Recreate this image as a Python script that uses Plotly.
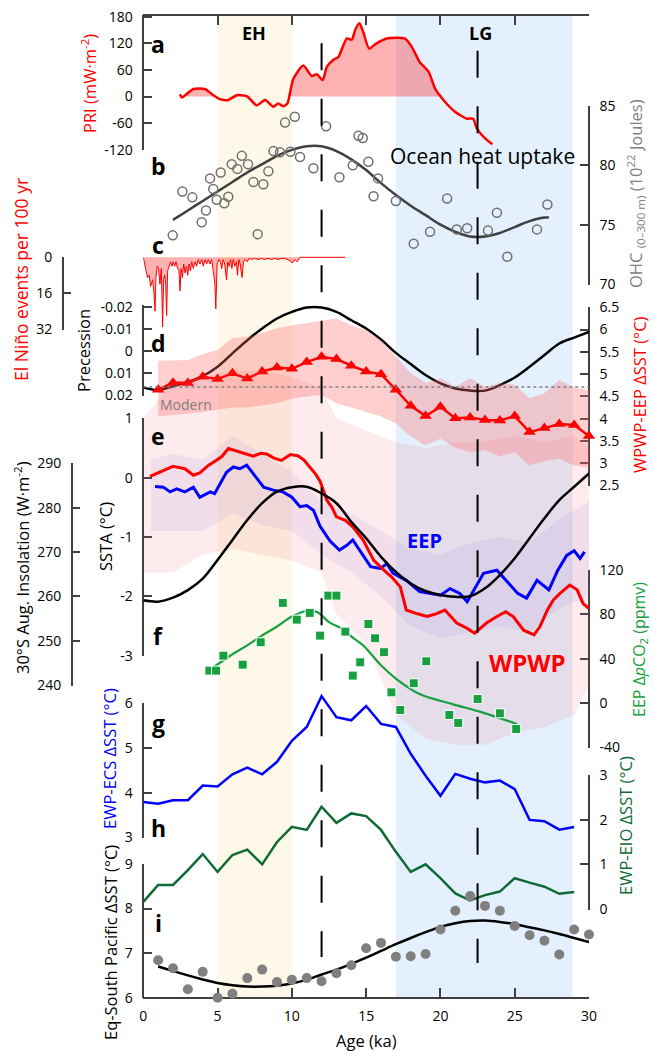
import plotly.graph_objects as go

W, H = 653, 1051

# ======================= DATA =======================
age_ticks = [0, 5, 10, 15, 20, 25, 30]

# (a) PRI (mW m-2)
pri_age = [2.47, 2.6, 3.37, 4.15, 4.71, 5.16, 5.72, 6.29, 6.96, 7.64, 8.2, 8.75, 9.09, 9.43, 9.7,
           10.1, 10.77, 11.34, 11.68, 12.08, 12.35, 12.8, 13.13, 13.7, 14.03, 14.26, 14.55, 14.8,
           15.2, 15.7, 16.4, 17.6, 18.07, 18.6, 19.2, 19.64, 20.2, 21.0, 21.78, 22.2, 22.45, 22.9, 23.5]
pri_val = [5, -2, 17, 17, 3, -6, -8, 3, 1, -20, -8, -23, -16, -22, -16,
           40, 70, 46, 50, 37, 67, 83, 89, 131, 128, 150, 165, 146,
           108, 120, 131, 131, 112, 78, 56, 18, -8, -35, -50, -50, -72, -91, -108]

# (b) Ocean heat content (10^22 J)
ohc_age = [1.98, 2.63, 3.3, 3.93, 4.22, 4.49, 4.71, 4.94, 5.21, 5.45, 5.72, 5.95, 6.33, 6.63, 7.05,
           7.41, 7.7, 8.08, 8.42, 8.76, 9.2, 9.54, 9.9, 10.2, 10.55, 11.45, 12.3, 13.2, 14.1, 14.48,
           14.77, 15.15, 15.5, 15.8, 17.0, 18.2, 19.3, 20.45, 21.1, 21.8, 23.2, 23.8, 24.5, 26.5, 27.2]
ohc_val = [74.1, 77.8, 77.3, 75.2, 76.2, 78.9, 78.0, 77.1, 79.4, 76.8, 77.35, 80.1, 79.7, 80.8, 80.1,
           78.6, 74.2, 78.4, 79.5, 81.2, 81.1, 83.6, 81.15, 84.1, 80.7, 79.75, 83.3, 79.0, 80.0, 82.5,
           82.3, 80.3, 77.4, 78.9, 77.0, 73.4, 74.4, 77.2, 74.6, 74.7, 74.5, 76.0, 72.3, 74.6, 76.7]
ohc_fit_age = [2, 3, 4, 5, 6, 7, 8, 9, 10, 11, 12, 13, 14, 15, 16, 17, 18, 19, 20, 21, 22, 23, 24,
               25, 26, 27, 27.3]
ohc_fit_val = [75.4, 76.2, 77.0, 77.8, 78.6, 79.4, 80.1, 80.8, 81.3, 81.6, 81.6, 81.2, 80.5, 79.6,
               78.5, 77.5, 76.6, 75.8, 75.0, 74.4, 74.0, 74.0, 74.3, 74.8, 75.3, 75.6, 75.6]

# (c) El Nino events per 100 yr
elnino_age = [0.0, 0.07, 0.18, 0.29, 0.40, 0.49, 0.63, 0.72, 0.79, 0.85, 0.94, 1.03, 1.12, 1.21,
              1.30, 1.37, 1.44, 1.51, 1.57, 1.64, 1.75, 1.84, 1.93, 2.02, 2.11, 2.20, 2.31, 2.40,
              2.47, 2.54, 2.63, 2.72, 2.81, 2.90, 2.99, 3.08, 3.17, 3.26, 3.37, 3.48, 3.59, 3.70,
              3.81, 3.93, 4.04, 4.15, 4.26, 4.37, 4.49, 4.60, 4.71, 4.82, 4.88, 4.97, 5.08, 5.19,
              5.28, 5.37, 5.48, 5.60, 5.69, 5.78, 5.87, 5.96, 6.05, 6.16, 6.27, 6.34, 6.43, 6.52,
              6.65, 6.74, 6.86, 6.99, 7.12, 7.28, 7.50, 7.72, 7.95, 8.17, 8.40, 8.62, 8.85, 9.07,
              9.30, 9.52, 9.86, 10.04, 10.20, 10.36, 10.54, 13.6]
elnino_val = [0, 3, 6, 9, 8, 13, 10, 16, 24, 9, 4, 5, 12, 5,
              31, 10, 8, 12, 26, 6, 4, 2, 4, 2, 4, 2, 5, 6,
              15, 5, 9, 3, 7, 4, 8, 3, 6, 2, 5, 2, 4, 1,
              3, 1, 4, 1, 3, 1, 3, 1, 6, 12, 23, 3, 1, 2,
              5, 1, 3, 10, 2, 4, 1, 5, 1, 4, 2, 8, 1, 3,
              9, 2, 1, 2, 0.5, 1, 0.5, 1, 0.5, 1, 0.5, 1, 0.5, 1,
              0.5, 0.5, 1.5, 2.5, 1, 2, 0, 0]

# (d) Precession and WPWP-EEP dSST
prec_age = [0, 1, 2, 3, 4, 5, 6, 7, 8, 9, 10, 11, 12, 13, 14, 15, 16, 17, 18, 19, 20, 21, 22, 23,
            24, 25, 26, 27, 28, 29, 30]
prec_val = [0.0165, 0.0177, 0.016, 0.014, 0.0114, 0.0071, 0.001, -0.005, -0.0103, -0.0149, -0.0179,
            -0.0199, -0.0199, -0.0179, -0.0141, -0.0103, -0.0053, 0.0008, 0.0059, 0.0109, 0.0147,
            0.017, 0.018, 0.018, 0.0155, 0.012, 0.0071, 0.0018, -0.0035, -0.0062, -0.0088]
modern_precession = 0.0164
dsst_age = [1, 2, 3, 4, 5, 6, 7, 8, 9, 10, 11, 12, 13, 14, 15, 16, 17, 18, 19, 20, 21, 22, 23, 24,
            25, 26, 27, 28, 29, 30]
dsst_val = [4.65, 4.81, 4.80, 4.94, 4.89, 5.02, 4.90, 5.06, 5.15, 5.12, 5.27, 5.39, 5.34, 5.19, 5.06,
            5.00, 4.65, 4.29, 4.06, 4.27, 4.01, 4.03, 3.97, 3.96, 4.06, 3.70, 3.79, 3.88, 3.86, 3.61]
dsst_hi = [5.30, 5.31, 5.32, 5.45, 5.54, 5.81, 5.84, 5.92, 6.03, 6.10, 6.15, 6.20, 6.25, 6.10, 5.99,
           5.77, 5.39, 5.02, 4.80, 4.91, 4.72, 4.91, 4.72, 4.80, 4.76, 4.46, 4.57, 4.87, 4.70, 4.65]
dsst_lo = [4.05, 4.08, 4.12, 4.15, 4.20, 4.25, 4.25, 4.30, 4.35, 4.45, 4.50, 4.53, 4.35, 4.25, 4.15,
           4.05, 3.90, 3.60, 3.40, 3.55, 3.35, 3.25, 3.30, 3.15, 3.25, 2.95, 3.05, 3.10, 2.95, 2.90]

# (e) SSTA and 30S August insolation
insol_age = prec_age
insol_val = [259.1, 258.8, 259.7, 261.4, 264.0, 268.2, 272.7, 277.2, 281.0, 283.6, 284.6, 284.7,
             283.2, 281.0, 276.8, 273.1, 268.9, 265.5, 262.9, 261.2, 260.3, 259.9, 260.0, 261.8,
             264.8, 268.6, 273.1, 277.6, 281.7, 284.7, 287.7]
wpwp_age = [0.45, 1.35, 2.0, 2.8, 3.37, 3.8, 4.4, 4.9, 5.3, 5.73, 6.1, 6.5, 7.0, 7.4, 7.9, 8.3, 8.8,
            9.3, 9.9, 10.4, 10.8, 11.2, 11.6, 11.9, 12.35, 12.7, 13.0, 13.6, 14.1, 14.8, 15.5, 16.2,
            16.7, 17.3, 17.7, 18.4, 19.1, 19.75, 20.3, 21.1, 21.8, 22.3, 23.1, 23.8, 24.4, 24.9,
            25.6, 26.3, 26.7, 27.2, 27.6, 28.05, 28.7, 29.2, 29.6, 30.2]
wpwp_val = [0.02, 0.12, 0.19, 0.15, 0.04, 0.08, 0.21, 0.29, 0.36, 0.49, 0.46, 0.43, 0.38, 0.36, 0.41,
            0.40, 0.33, 0.29, 0.39, 0.37, 0.30, 0.18, 0.06, -0.06, -0.38, -0.50, -0.66, -0.72, -0.83,
            -1.05, -1.39, -1.56, -1.67, -1.84, -2.23, -2.29, -2.34, -2.29, -2.23, -2.45, -2.54, -2.62,
            -2.45, -2.34, -2.26, -2.34, -2.57, -2.65, -2.51, -2.23, -2.06, -1.95, -1.81, -1.89, -2.12,
            -2.25]
eep_age = [0.79, 1.35, 1.8, 2.25, 2.8, 3.37, 3.8, 4.5, 4.8, 5.28, 5.6, 6.06, 6.5, 6.96, 7.4, 8.1,
           8.75, 9.4, 10.0, 10.55, 11.0, 11.45, 11.9, 12.57, 13.2, 13.7, 14.1, 14.7, 15.3, 15.95,
           16.4, 16.8, 17.7, 18.6, 19.3, 20.0, 20.65, 21.3, 21.8, 22.2, 22.9, 23.8, 24.5, 25.2, 25.8,
           26.5, 27.3, 27.9, 28.5, 29.0, 29.4, 29.7]
eep_val = [-0.15, -0.16, -0.24, -0.19, -0.24, -0.16, -0.33, -0.24, -0.27, -0.05, 0.09, 0.18, 0.15,
           0.21, 0.07, -0.16, -0.21, -0.24, -0.33, -0.49, -0.47, -0.55, -0.82, -1.07, -1.22, -1.14,
           -1.05, -1.28, -1.50, -1.53, -1.45, -1.61, -1.73, -1.92, -1.95, -1.98, -1.87, -1.95, -2.09,
           -1.92, -1.61, -1.56, -1.75, -1.95, -2.03, -1.73, -1.89, -1.56, -1.31, -1.23, -1.36, -1.25]
# envelopes of the raw (unsmoothed) SSTA records
raw_wpwp_age = [0, 2, 4, 6, 8, 10, 12, 13, 15, 17, 19, 21, 23, 25, 27, 29, 30]
raw_wpwp_hi = [1.0, 1.6, 1.7, 1.8, 1.8, 1.7, 1.5, 1.0, 0.8, 0.6, 0.5, 0.6, 0.6, 0.7, 0.6, 0.7, 0.5]
raw_wpwp_lo = [-1.6, -1.6, -1.3, -1.2, -1.3, -1.4, -1.6, -2.3, -2.8, -4.0, -4.4, -4.5, -4.5, -4.3,
               -4.2, -4.0, -3.5]
raw_eep_age = [0.5, 2, 4, 6, 8, 10, 12, 14, 16, 18, 20, 22, 24, 26, 28, 30]
raw_eep_hi = [0.3, 0.4, 0.3, 0.7, 0.4, 0.1, -0.4, -0.6, -0.9, -1.2, -1.3, -1.1, -1.0, -1.1, -0.7, -0.4]
raw_eep_lo = [-0.9, -0.9, -0.9, -0.6, -0.8, -0.9, -1.3, -1.6, -2.0, -2.5, -2.7, -2.6, -2.5, -2.6,
              -2.2, -2.0]

# (f) EEP delta pCO2 (ppmv)
pco2_age = [4.45, 4.9, 5.39, 6.69, 7.9, 9.39, 10.33, 11.2, 11.9, 12.46, 13.0, 13.6, 14.1, 14.6,
            15.15, 15.6, 16.2, 16.7, 17.3, 18.2, 19.05, 20.6, 21.2, 22.5, 24.0, 25.1]
pco2_val = [29.2, 29.2, 42.7, 34.6, 54.8, 90.3, 75.2, 81.3, 60.8, 96.9, 96.9, 64.4, 24.7, 36.7,
            71.3, 58.4, 45.8, 9.6, -6.3, 17.8, 37.6, -10.8, -18.0, 3.6, -9.3, -23.5]
pco2_fit_age = [4.7, 6, 7, 8, 9, 10, 11, 11.7, 12.5, 13.5, 14.1, 14.8, 16, 17, 18.6, 20.8, 22.7, 25.15]
pco2_fit_val = [32, 44, 52, 61, 69, 78, 83, 82, 73, 66, 59, 52, 34, 22, 8, -1, -8, -19]

# (g) EWP-ECS dSST, (h) EWP-EIO dSST
ecs_age = list(range(0, 30))
ecs_val = [3.79, 3.75, 3.83, 3.83, 4.16, 4.14, 4.41, 4.56, 4.41, 4.69, 5.16, 5.47, 6.16, 5.69, 5.62,
           5.94, 5.54, 5.47, 4.87, 4.38, 3.93, 4.42, 4.31, 4.23, 4.27, 4.08, 3.39, 3.36, 3.17, 3.23]
eio_age = list(range(0, 30))
eio_val = [0.16, 0.54, 0.54, 0.87, 1.23, 0.83, 1.21, 1.33, 1.0, 1.50, 1.84, 1.77, 2.29, 1.93, 2.14,
           2.08, 1.77, 1.28, 0.83, 1.0, 0.69, 0.35, 0.19, 0.31, 0.39, 0.69, 0.59, 0.50, 0.34, 0.38]

# (i) Eq-South Pacific dSST
eqsp_age = list(range(1, 31))
eqsp_val = [6.84, 6.66, 6.19, 6.58, 6.0, 6.09, 6.44, 6.63, 6.35, 6.40, 6.44, 6.37, 6.55, 6.73, 7.11,
            7.23, 6.92, 6.93, 6.98, 7.53, 7.95, 8.28, 8.06, 7.95, 7.61, 7.40, 7.28, 6.97, 7.53, 7.42]
eqsp_fit_age = list(range(1, 31))
eqsp_fit_val = [6.70, 6.60, 6.50, 6.41, 6.33, 6.28, 6.25, 6.25, 6.27, 6.32, 6.40, 6.52, 6.63, 6.76,
                6.90, 7.05, 7.20, 7.34, 7.47, 7.59, 7.67, 7.72, 7.73, 7.70, 7.65, 7.58, 7.51, 7.43,
                7.34, 7.25]

# intervals and event lines
eh_interval = [5.0, 10.0]
lg_interval = [17.0, 28.9]
event_ages = [12.0, 22.5]

# tick labels
pri_ticks = [-120, -60, 0, 60, 120, 180]
ohc_ticks = [70, 75, 80, 85]
elnino_ticks = [0, 16, 32]
prec_ticks = [-0.02, -0.01, 0, 0.01, 0.02]
prec_ticktext = ['-0.02', '-0.01', '0', '0.01', '0.02']
dsst_ticks = [2.5, 3, 3.5, 4, 4.5, 5, 5.5, 6, 6.5]
ssta_ticks = [-3, -2, -1, 0, 1]
insol_ticks = [240, 250, 260, 270, 280, 290]
pco2_ticks = [-40, 0, 40, 80, 120]
ecs_ticks = [3, 4, 5, 6]
eio_ticks = [0, 1, 2, 3]
eqsp_ticks = [6, 7, 8, 9]

# ======================= LAYOUT HELPERS =======================
FONT = 'Open Sans'
AX = '#404040'
RED = '#FF0000'
BLUE = '#0000FF'
GREEN = '#17A040'
DGREEN = '#0F6B35'
XL, XR = 143.3, 589.0     # pixel positions of age 0 and 30
TSZ = 16.5                # axis-title font size


def fx(px):
    return px / W


def fy(py):
    return 1 - py / H


def lin(pa, va, pb, vb):
    s = (vb - va) / (pb - pa)
    return lambda p: va + (p - pa) * s


# key: calibration (px, val, px, val), axis span (top, bottom), x position, side, ticks
specs = [
    ('pri', (16.7, 180, 149.7, -120), (15.3, 150.2), XL, 'left', pri_ticks, None),
    ('ohc', (106.0, 85, 284.0, 70), (105.5, 284.5), XR, 'right', ohc_ticks, None),
    ('eln', (257.3, 0, 329.0, 32), (256.8, 329.5), 62.7, 'left', elnino_ticks, None),
    ('prec', (307.3, -0.02, 395.0, 0.02), (305.0, 395.5), XL, 'left', prec_ticks, prec_ticktext),
    ('dsst', (307.3, 6.5, 463.3, 3.0), (306.8, 486.2), XR, 'right', dsst_ticks, None),
    ('ssta', (418.3, 1, 655.7, -3), (417.8, 656.2), XL, 'left', ssta_ticks, None),
    ('insol', (463.3, 290, 685.0, 240), (462.8, 685.5), 71.7, 'left', insol_ticks, None),
    ('pco2', (570.0, 120, 747.3, -40), (569.5, 747.8), XR, 'right', pco2_ticks, None),
    ('ecs', (703.3, 6, 837.3, 3), (702.8, 837.8), XL, 'left', ecs_ticks, None),
    ('eio', (775.0, 3, 909.0, 0), (774.5, 909.5), XR, 'right', eio_ticks, None),
    ('eqsp', (864.0, 9, 997.7, 6), (863.5, 998.0), XL, 'left', eqsp_ticks, None),
]
n = len(specs)
DISP, DATA = {}, {}
layout_axes = {}
for i, (key, cal, span, xpos, side, tv, tt) in enumerate(specs):
    f = lin(*cal)
    dn = i + 1
    dd = n + i + 1
    DISP[key] = 'y' if dn == 1 else f'y{dn}'
    DATA[key] = f'y{dd}'
    top, bot = span
    layout_axes['yaxis' if dn == 1 else f'yaxis{dn}'] = dict(
        domain=[fy(bot), fy(top)], range=[f(bot), f(top)], autorange=False,
        anchor='free', position=fx(xpos), side=side, automargin=False,
        showline=True, linecolor=AX, linewidth=1.5, mirror=False,
        ticks='inside', ticklen=8, tickwidth=1.5, tickcolor=AX,
        showgrid=False, zeroline=False, tickmode='array', tickvals=tv,
        ticktext=tt if tt is not None else [str(v) for v in tv],
        tickfont=dict(family=FONT, size=14, color='black'), ticklabelstandoff=7,
        fixedrange=True)
    layout_axes[f'yaxis{dd}'] = dict(
        domain=[0, 1], range=[f(H), f(0)], autorange=False, anchor='free', position=0,
        visible=False, showgrid=False, zeroline=False, fixedrange=True, automargin=False)

fig = go.Figure()

for key in DISP:
    fig.add_trace(go.Scatter(x=[None], y=[None], xaxis='x', yaxis=DISP[key], showlegend=False,
                             hoverinfo='skip'))
fig.add_trace(go.Scatter(x=[None], y=[None], xaxis='x2', yaxis='y', showlegend=False,
                         hoverinfo='skip'))


def tr(key, **kw):
    kw.setdefault('showlegend', False)
    kw.setdefault('hoverinfo', 'skip')
    fig.add_trace(go.Scatter(xaxis='x', yaxis=DATA[key], **kw))


# ---- raw SSTA envelopes (e)
tr('ssta', x=raw_wpwp_age, y=raw_wpwp_hi, mode='lines', line=dict(width=0))
tr('ssta', x=raw_wpwp_age, y=raw_wpwp_lo, mode='lines', line=dict(width=0), fill='tonexty',
   fillcolor='rgba(245,90,110,0.12)')
tr('ssta', x=raw_eep_age, y=raw_eep_hi, mode='lines', line=dict(width=0))
tr('ssta', x=raw_eep_age, y=raw_eep_lo, mode='lines', line=dict(width=0), fill='tonexty',
   fillcolor='rgba(130,110,220,0.10)')

# ---- (d) band
tr('dsst', x=dsst_age, y=dsst_hi, mode='lines', line=dict(width=0))
tr('dsst', x=dsst_age, y=dsst_lo, mode='lines', line=dict(width=0), fill='tonexty',
   fillcolor='rgba(255,110,110,0.33)')

# ---- (a) PRI
tr('pri', x=pri_age, y=[max(v, 0) for v in pri_val], mode='lines', line=dict(width=0),
   fill='tozeroy', fillcolor='rgba(255,0,0,0.3)')
tr('pri', x=pri_age, y=pri_val, mode='lines', line=dict(color=RED, width=2.5, shape='spline',
                                                           smoothing=0.6))

# ---- (b) OHC
tr('ohc', x=ohc_fit_age, y=ohc_fit_val, mode='lines',
   line=dict(color='#404040', width=2.5, shape='spline'))
tr('ohc', x=ohc_age, y=ohc_val, mode='markers', cliponaxis=False,
   marker=dict(symbol='circle-open', size=9, color='#707070', line=dict(width=1.5, color='#707070')))

# ---- (c) El Nino
tr('eln', x=elnino_age, y=elnino_val, mode='lines', line=dict(color=RED, width=1),
   fill='tozeroy', fillcolor='rgba(255,0,0,0.3)')

# ---- (d) precession & dSST
tr('prec', x=prec_age, y=prec_val, mode='lines', line=dict(color='black', width=2.5, shape='spline'))
tr('dsst', x=dsst_age, y=dsst_val, mode='lines+markers', cliponaxis=False,
   line=dict(color=RED, width=2.5), marker=dict(symbol='triangle-up', size=11, color=RED))

# ---- (e) insolation, SSTA
tr('insol', x=insol_age, y=insol_val, mode='lines', line=dict(color='black', width=2.5, shape='spline'))
tr('ssta', x=eep_age, y=eep_val, mode='lines', line=dict(color=BLUE, width=3))
tr('ssta', x=wpwp_age, y=wpwp_val, mode='lines', line=dict(color=RED, width=3))

# ---- (f) pCO2
tr('pco2', x=pco2_fit_age, y=pco2_fit_val, mode='lines', line=dict(color=GREEN, width=2.2, shape='spline'))
tr('pco2', x=pco2_age, y=pco2_val, mode='markers', cliponaxis=False,
   marker=dict(symbol='square', size=9, color=GREEN, line=dict(width=1, color='white')))

# ---- (g), (h)
tr('ecs', x=ecs_age, y=ecs_val, mode='lines', line=dict(color=BLUE, width=2.5))
tr('eio', x=eio_age, y=eio_val, mode='lines', line=dict(color=DGREEN, width=2.5))

# ---- (i)
tr('eqsp', x=eqsp_fit_age, y=eqsp_fit_val, mode='lines', line=dict(color='black', width=2.5, shape='spline'))
tr('eqsp', x=eqsp_age, y=eqsp_val, mode='markers', cliponaxis=False,
   marker=dict(size=10, color='#808080'))

# ======================= SHAPES =======================
shapes = [
    dict(type='rect', xref='x', yref='paper', x0=eh_interval[0], x1=eh_interval[1],
         y0=fy(997.7), y1=fy(15.3), fillcolor='#FDF8E7', line=dict(width=0), layer='below'),
    dict(type='rect', xref='x', yref='paper', x0=lg_interval[0], x1=lg_interval[1],
         y0=fy(997.7), y1=fy(15.3), fillcolor='#E4F0FD', line=dict(width=0), layer='below'),
    dict(type='line', xref='x', yref=DATA['prec'], x0=0, x1=30, y0=modern_precession,
         y1=modern_precession, line=dict(color='#808080', width=1.5, dash='dot'), layer='above'),
]
for a, ytop, ybot in zip(event_ages, [43.3, 50.7], [957, 963]):
    shapes.append(dict(type='line', xref='x', yref='paper', x0=a, x1=a, y0=fy(ytop), y1=fy(ybot),
                       line=dict(color='black', width=2, dash='27px,28.5px'), layer='above'))

# ======================= ANNOTATIONS =======================
ann = []


def txt(s, px, py, size=14, color='black', bold=False, angle=0):
    ann.append(dict(text=f'<b>{s}</b>' if bold else s, x=fx(px), y=fy(py), xref='paper',
                    yref='paper', showarrow=False, textangle=angle, xanchor='center',
                    yanchor='middle', font=dict(family=FONT, size=size, color=color)))


for lab, px, py in [('a', 158, 44), ('b', 158, 166), ('c', 158, 245), ('d', 158, 343),
                    ('e', 158, 436), ('f', 158, 636), ('g', 158, 723), ('h', 158, 828),
                    ('i', 158, 923)]:
    txt(lab, px, py, size=23, bold=True)
txt('EH', 254, 33, size=18, bold=True)
txt('LG', 480.7, 33, size=18, bold=True)
txt('Ocean heat uptake', 482.5, 156, size=21)
txt('EEP', 424.3, 540, size=20, color=BLUE, bold=True)
txt('WPWP', 527.3, 662, size=24, color=RED, bold=True)
txt('Modern', 186, 404, size=14, color='#808080')

txt('PRI (mW·m<sup>-2</sup>)', 89, 83, size=TSZ, color=RED, angle=-90)
txt('El Niño events per 100 yr', 21, 280, size=17.5, color=RED, angle=-90)
txt('Precession', 83, 351, size=TSZ, angle=-90)
txt('SSTA (°C)', 105, 537, size=TSZ, angle=-90)
txt('30°S Aug. Insolation (W·m<sup>-2</sup>)', 22, 568, size=TSZ, angle=-90)
txt('EWP-ECS ΔSST (°C)', 109, 759, size=TSZ, color=BLUE, angle=-90)
txt('Eq-South Pacific ΔSST (°C)', 110, 943, size=TSZ, angle=-90)
txt('OHC <sub>(0–300 m)</sub> (10<sup>22</sup> Joules)', 635, 194, size=TSZ, color='#808080', angle=-90)
txt('WPWP-EEP ΔSST (°C)', 640, 395, size=TSZ, color=RED, angle=-90)
txt('EEP Δ<i>p</i>CO<sub>2</sub> (ppmv)', 639, 650, size=16, color=GREEN, angle=-90)
txt('EWP-EIO ΔSST (°C)', 625, 826, size=TSZ, color=DGREEN, angle=-90)
txt('Age (ka)', 366, 1040, size=TSZ)

fig.update_layout(
    template='none',
    width=W, height=H, margin=dict(l=0, r=0, t=0, b=0, pad=0, autoexpand=False),
    paper_bgcolor='white', plot_bgcolor='rgba(0,0,0,0)', showlegend=False,
    font=dict(family=FONT, size=14, color='black'),
    xaxis=dict(domain=[fx(XL), fx(XR)], range=[0, 30], autorange=False, anchor='free',
               position=fy(997.7), showline=True, linecolor=AX, linewidth=1.5, automargin=False,
               ticks='inside', ticklen=9, tickwidth=1.5, tickcolor=AX, tickmode='array',
               tickvals=age_ticks, ticktext=[str(v) for v in age_ticks],
               tickfont=dict(family=FONT, size=14, color='black'), ticklabelstandoff=6,
               showgrid=False, zeroline=False, fixedrange=True),
    xaxis2=dict(domain=[fx(XL), fx(XR)], range=[0, 30], autorange=False, anchor='free',
                overlaying='x', side='top', position=fy(15.3), showline=True, linecolor=AX,
                linewidth=1.5, ticks='inside', ticklen=9, tickwidth=1.5, tickcolor=AX,
                tickmode='array', tickvals=age_ticks, showticklabels=False, showgrid=False,
                zeroline=False, fixedrange=True, automargin=False),
    shapes=shapes, annotations=ann,
    **layout_axes,
)

# remove the browser's default 8px page margin so the figure fills the window exactly
fig.write_html('out.html', config={'displayModeBar': False},
               post_script="document.body.style.margin='0';"
                           "document.body.style.overflow='hidden';")
